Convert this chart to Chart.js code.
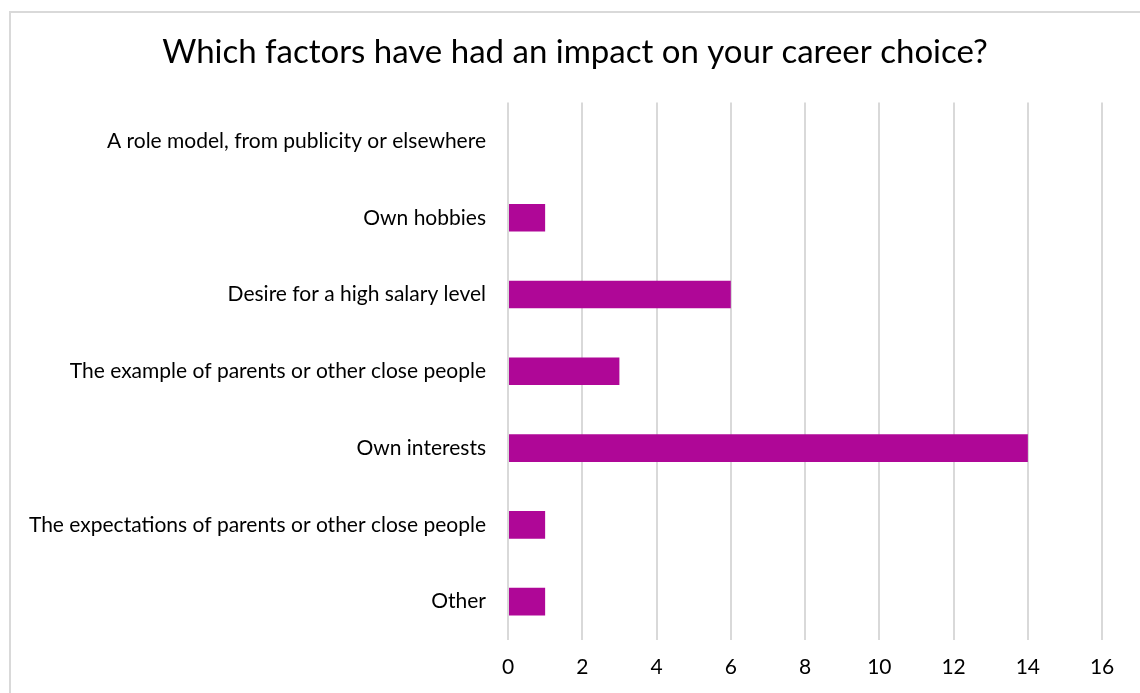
<!DOCTYPE html>
<html>
<head>
<meta charset="utf-8">
<script src="https://cdn.jsdelivr.net/npm/chart.js@4"></script>
<style>
  html, body { margin: 0; padding: 0; background: #fff; overflow: hidden; }
  #wrap { position: relative; width: 1140px; height: 693px; }
  #frame { position: absolute; left: 9px; top: 11px; width: 1200px; height: 800px; border: 2px solid #d9d9d9; box-sizing: border-box; }
  canvas { position: absolute; left: 0; top: 0; }
</style>
</head>
<body>
<div id="wrap">
  <div id="frame"></div>
  <canvas id="bar-chart" width="1140" height="693"></canvas>
</div>
<script>
// categorias (de arriba hacia abajo)
const factors = [
  'A role model, from publicity or elsewhere',
  'Own hobbies',
  'Desire for a high salary level',
  'The example of parents or other close people',
  'Own interests',
  'The expectations of parents or other close people',
  'Other'
];
const answers = [0, 1, 6, 3, 14, 1, 1];
const xTicks = [0, 2, 4, 6, 8, 10, 12, 14, 16];

const fontFamily = 'Lato, "Open Sans", sans-serif';

const data = {
  labels: factors,
  datasets: [
    {
      label: 'Answers',
      data: answers,
      backgroundColor: '#AF0797',
      borderWidth: 0,
      barPercentage: 0.36,
      categoryPercentage: 1
    }
  ]
};

const options = {
  indexAxis: 'y',
  responsive: false,
  animation: false,
  layout: { padding: { left: 10, right: 0, top: 0, bottom: 0 } },
  plugins: {
    legend: { display: false },
    tooltip: { enabled: false },
    title: {
      display: true,
      text: 'Which factors have had an impact on your career choice?',
      color: '#000',
      font: { family: fontFamily, size: 33, weight: 'normal' },
      padding: { top: 33, bottom: 30 }
    }
  },
  scales: {
    x: {
      min: 0,
      max: 17.02, // el eje sigue un poco mas alla del 16, sin linea
      afterBuildTicks: (scale) => { scale.ticks = xTicks.map(v => ({ value: v })); },
      afterFit: (scale) => { scale.height = 53; },
      grid: { color: '#d9d9d9', lineWidth: 2, drawTicks: false },
      border: { display: false },
      ticks: { padding: 15, color: '#000', font: { family: fontFamily, size: 21 } }
    },
    y: {
      afterFit: (scale) => { scale.width = 498; },
      grid: { display: false, drawTicks: false },
      border: { display: false },
      ticks: { padding: 22, color: '#000', font: { family: fontFamily, size: 21 } }
    }
  }
};

const chart = new Chart(document.getElementById('bar-chart'), {
  type: 'bar',
  data: data,
  options: options
});
</script>
</body>
</html>
